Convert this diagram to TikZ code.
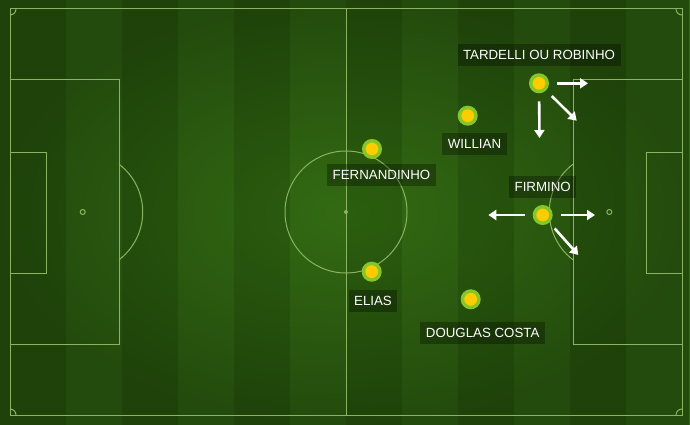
\documentclass[tikz,border=0pt]{standalone}
\usepackage{fontspec}
\setmainfont{Liberation Sans}
\usetikzlibrary{positioning,arrows.meta,fadings}

\definecolor{turfdark}{RGB}{44,95,15}
\definecolor{turflight}{RGB}{51,107,19}
\definecolor{chalkgreen}{RGB}{138,180,98}
\definecolor{ringgreen}{RGB}{134,198,40}
\definecolor{dotyellow}{RGB}{255,204,0}
\tikzfading[name=vignette, inner color=transparent!100, outer color=transparent!70]

\begin{document}
\begin{tikzpicture}[x=1pt, y=-1pt, node distance=7pt,
  chalk/.style = {draw=chalkgreen, line width=1pt},
  player/.style = {circle, draw=ringgreen, fill=dotyellow, line width=3.5pt,
    minimum size=16.5pt, inner sep=0pt},
  tag/.style = {fill=black, fill opacity=0.3, text opacity=1, text=white,
    font=\fontsize{13.3}{15}\selectfont, inner xsep=5.5pt, inner ysep=6.25pt,
    text height=9.5pt, text depth=0pt},
  move/.style = {draw=white, line width=2.6pt, shorten <=8pt,
    -{Triangle[length=8pt, width=10pt]}}]

\useasboundingbox (0,0) rectangle (690,425);
\fill[turfdark] (0,0) rectangle (690,425);
\foreach \i in {1,3,...,9}
  \fill[turflight] ({10+56*\i},0) rectangle ({66+56*\i},425);
\fill[turflight] (626,0) rectangle (690,425);
\fill[black, path fading=vignette] (0,0) rectangle (690,425);

\draw[chalk] (10,9) rectangle (682,415);
\draw[chalk] (346,9) -- (346,415);
\draw[chalk] (346,212) circle[radius=61];
\fill[chalkgreen] (346,212) circle[radius=2];
\draw[chalk] (10,80) rectangle (119,344);
\draw[chalk] (573,80) rectangle (682,344);
\draw[chalk] (10,152) rectangle (46,273);
\draw[chalk] (646,152) rectangle (682,273);
\draw[chalk] (82.7,212) circle[radius=2.5];
\draw[chalk] (609.3,212) circle[radius=2.5];
\draw[chalk] (119,164.2) arc[start angle=-52.8, end angle=52.8, radius=60];
\draw[chalk] (573,259.8) arc[start angle=127.2, end angle=232.8, radius=60];
\draw[chalk] (16,9) arc[start angle=0, end angle=90, radius=6];
\draw[chalk] (676,9) arc[start angle=180, end angle=90, radius=6];
\draw[chalk] (16,415) arc[start angle=0, end angle=-90, radius=6];
\draw[chalk] (676,415) arc[start angle=180, end angle=270, radius=6];

\node[player] (fern) at (372,149) {};
\node[player] (elias) at (371.7,271.7) {};
\node[player] (willian) at (467.7,115.7) {};
\node[player] (tardelli) at (539,83.3) {};
\node[player] (firmino) at (542.7,215) {};
\node[player] (douglas) at (470.7,299.3) {};

\node[tag, below=5pt of fern, xshift=9.5pt] (fernname) {FERNANDINHO};
\node[tag, below=8.3pt of elias, xshift=1.3pt] (eliasname) {ELIAS};
\node[tag, below=7.3pt of willian, xshift=6.8pt] (williamname) {WILLIAN};
\node[tag, above=of tardelli] (tardelliname) {TARDELLI OU ROBINHO};
\node[tag, above=of firmino] (firminoname) {FIRMINO};
\node[tag, below=12pt of douglas, xshift=12pt] (douglasname) {DOUGLAS COSTA};

\coordinate (t1) at (588,83.3);
\coordinate (t2) at (576.7,120.7);
\coordinate (t3) at (539.5,138);
\coordinate (f1) at (488.3,215);
\coordinate (f2) at (595,215);
\coordinate (f3) at (578.3,255);

\draw[move] (tardelli) -- (t1);
\draw[move] (tardelli) -- (t2);
\draw[move] (tardelli) -- (t3);
\draw[move] (firmino) -- (f1);
\draw[move] (firmino) -- (f2);
\draw[move] (firmino) -- (f3);

\end{tikzpicture}
\end{document}
